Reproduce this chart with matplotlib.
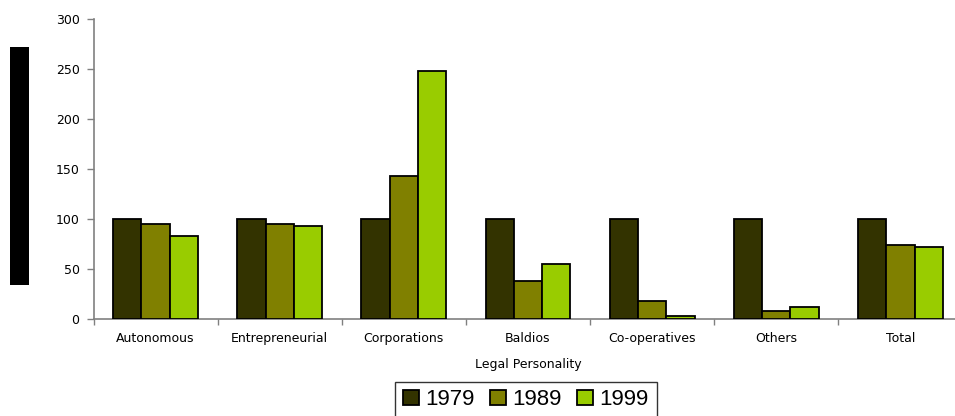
import numpy as np
import matplotlib
matplotlib.use("Agg")
import matplotlib.pyplot as plt
from matplotlib.patches import Rectangle

plt.rcParams['font.family'] = ['DejaVu Sans']

# --- Data ---
categories = ["Autonomous", "Entrepreneurial", "Corporations", "Baldios",
              "Co-operatives", "Others", "Total"]
years = ["1979", "1989", "1999"]
v1979 = [100, 100, 100, 100, 100, 100, 100]
v1989 = [95, 95, 143, 38, 18, 8, 74]
v1999 = [83, 93, 248, 55, 3, 12, 72]
colors = ["#333300", "#808000", "#99cc00"]

# --- Figure ---
W, H = 955, 416
fig = plt.figure(figsize=(W / 100, H / 100), dpi=100)
ax = fig.add_axes([93.5 / W, (H - 319) / H, 869 / W, 300 / H])

x = np.arange(len(categories))
bw = 0.228
for i, (vals, c) in enumerate(zip([v1979, v1989, v1999], colors)):
    ax.bar(x + (i - 1) * bw, vals, width=bw, color=c, edgecolor="black",
           linewidth=1.3, label=years[i], zorder=3)

ax.set_xlim(-0.5, len(categories) - 0.5)
ax.set_ylim(0, 300)
ax.set_yticks(np.arange(0, 301, 50))
ax.set_xticks(x)
ax.set_xticklabels(categories, fontsize=9)
ax.set_xticks(np.arange(-0.5, len(categories), 1), minor=True)
ax.tick_params(axis="x", which="major", length=0, pad=9.5)
ax.tick_params(axis="x", which="minor", length=4, color="#808080", width=1)
ax.tick_params(axis="y", length=5, color="#808080", width=1, labelsize=9, pad=5)
for s in ["top", "right"]:
    ax.spines[s].set_visible(False)
for s in ["left", "bottom"]:
    ax.spines[s].set_color("#808080")
    ax.spines[s].set_linewidth(1.2)
ax.set_xlabel("Legal Personality", fontsize=9, labelpad=9)

# black block where the y-axis title would be
fig.patches.append(Rectangle((10 / W, 1 - 285 / H), 19 / W, 238 / H,
                             transform=fig.transFigure, facecolor="black",
                             edgecolor="none"))

leg = fig.legend(loc="upper center", bbox_to_anchor=(526 / W, 1 - 381.5 / H),
                 ncol=3, prop={"family": "Liberation Sans", "size": 16},
                 frameon=True, fancybox=False,
                 edgecolor="black", handlelength=0.7, handleheight=0.7,
                 handletextpad=0.3, columnspacing=0.7, borderpad=0.35,
                 borderaxespad=0)
leg.get_frame().set_linewidth(1.0)

fig.savefig("out.png", dpi=100)
